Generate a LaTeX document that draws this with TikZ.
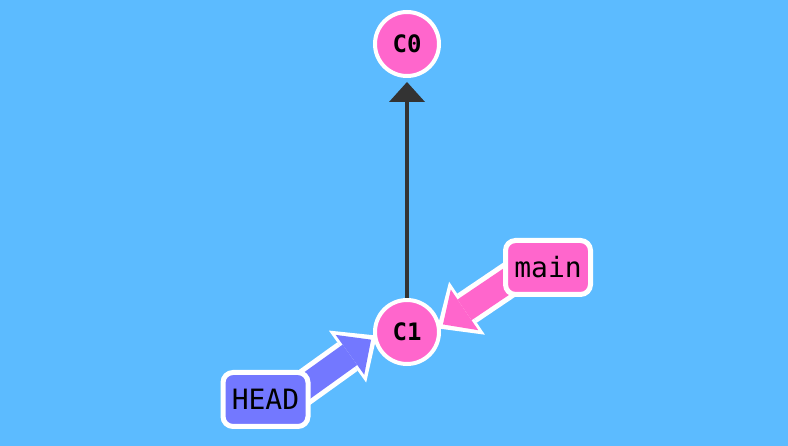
\documentclass[tikz,border=0pt]{standalone}
\usepackage{fontspec}
\setmonofont{DejaVu Sans Mono}
\usetikzlibrary{arrows.meta}

\definecolor{skyblue}{HTML}{5CBBFF}
\definecolor{commitpink}{HTML}{FF66CC}
\definecolor{headblue}{HTML}{7378FF}
\definecolor{edgegray}{HTML}{333333}

\pgfdeclarelayer{back}
\pgfsetlayers{back,main}

\tikzset{
    commit/.style={circle, draw=white, line width=4pt, fill=commitpink,
        minimum size=64pt, inner sep=0pt,
        font=\ttfamily\bfseries\fontsize{24}{24}\selectfont},
    refbox/.style={rectangle, rounded corners=10pt, draw=white, line width=5pt,
        minimum width=85pt, minimum height=54pt, inner sep=0pt,
        font=\ttfamily\fontsize{28}{28}\selectfont},
    refout/.style={white, line width=35pt, shorten <=-18pt, shorten >=-4pt,
        -{Triangle[width=64pt,length=36pt,line width=0pt]}},
    refin/.style={line width=25pt, shorten <=-18pt, shorten >=3pt,
        -{Triangle[width=49pt,length=26pt,line width=0pt]}}
}

\begin{document}
\begin{tikzpicture}[x=1pt, y=-1pt]
    % Background
    \begin{pgfonlayer}{back}
        \fill[skyblue] (0,0) rectangle (788,446);
        \useasboundingbox (0,0) rectangle (788,446);

        % Commits
        \node[commit] (C0) at (407,44) {C0};
        \node[commit] (C1) at (407,332) {C1};

        % Parent edge
        \draw[edgegray, line width=3.5pt, shorten >=4pt,
            -{Triangle[width=36pt,length=20pt,line width=0pt]}] (C1) -- (C0);
    \end{pgfonlayer}

    % Branch and HEAD labels
    \node[refbox, fill=commitpink] (main) at (548,267.5) {main};
    \node[refbox, fill=headblue] (HEAD) at (265.5,399.5) {HEAD};

    % Ref arrows (under the labels, over the commits)
    \begin{pgfonlayer}{back}
        \draw[refout] (main.200) -- (C1.10);
        \draw[refin, commitpink] (main.200) -- (C1.10);
        \draw[refout] (HEAD.20) -- (C1.190);
        \draw[refin, headblue] (HEAD.20) -- (C1.190);
    \end{pgfonlayer}
\end{tikzpicture}
\end{document}
